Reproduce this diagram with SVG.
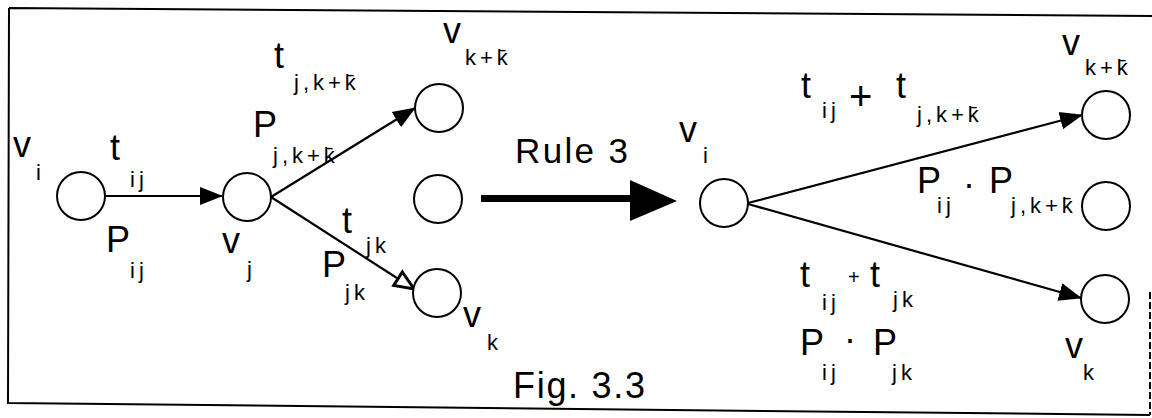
<svg xmlns="http://www.w3.org/2000/svg" width="1152" height="418" viewBox="0 0 1152 418">
<style>
text{font-family:"Liberation Sans",Arial,sans-serif;fill:#000}
.m{font-size:36px}
.s{font-size:22px;letter-spacing:4px}
.node{fill:#fff;stroke:#000;stroke-width:2}
.edge{stroke:#000;stroke-width:2.2;fill:none}
.frame{stroke:#000;stroke-width:2;fill:none}
</style>
<defs>
<marker id="ah" markerWidth="24" markerHeight="20" refX="22" refY="10" orient="auto" markerUnits="userSpaceOnUse">
<path d="M0,1 L23,10 L0,19 z" fill="#000"/>
</marker>
<marker id="aho" markerWidth="26" markerHeight="22" refX="22" refY="11" orient="auto" markerUnits="userSpaceOnUse">
<path d="M3,3 L22,11 L3,19 z" fill="#fff" stroke="#000" stroke-width="3"/>
</marker>
</defs>
<rect width="1152" height="418" fill="#fff"/>
<g id="frame">
<path class="frame" d="M9,8 L1152,16 M9,8 L8,404 M8,403 L1150,415"/>
<path class="frame" d="M1150,292 L1150,415" stroke-dasharray="7 3" stroke-width="1.5"/>
</g>
<g id="connectors">
<line class="edge" x1="104" y1="196" x2="222" y2="196" marker-end="url(#ah)"/>
<line class="edge" x1="271" y1="197" x2="415" y2="108" marker-end="url(#ah)"/>
<line class="edge" x1="271" y1="197" x2="414" y2="289" marker-end="url(#aho)"/>
<line class="edge" x1="748" y1="203" x2="1082" y2="115" marker-end="url(#ah)"/>
<line class="edge" x1="748" y1="204" x2="1081" y2="298" marker-end="url(#ah)"/>
<g id="rule3-arrow">
<rect x="481" y="195" width="152" height="7" fill="#000"/>
<path d="M630,180 L677,201 L630,221 z" fill="#000"/>
</g>
</g>
<g id="node-vi-left">
<circle class="node" cx="81" cy="196" r="24"/>
<text class="m" x="13" y="157">v</text><text class="s" x="36" y="180">i</text>
</g>
<g id="node-vj">
<circle class="node" cx="247" cy="197" r="24"/>
<text class="m" x="222" y="253">v</text><text class="s" x="247" y="277">j</text>
</g>
<g id="node-vkk-left">
<circle class="node" cx="439" cy="108" r="24"/>
<text class="m" x="443" y="43">v</text><text class="s" x="465" y="65">k+k̄</text>
</g>
<g id="node-mid-left">
<circle class="node" cx="438" cy="199" r="24"/>
</g>
<g id="node-vk-left">
<circle class="node" cx="437" cy="293" r="24"/>
<text class="m" x="463" y="327">v</text><text class="s" x="487" y="350">k</text>
</g>
<g id="labels-left">
<text class="m" x="110" y="160">t</text><text class="s" x="130" y="187">ij</text>
<text class="m" x="106" y="252">P</text><text class="s" x="130" y="278">ij</text>
<text class="m" x="274" y="68">t</text><text class="s" x="294" y="90">j,k+k̄</text>
<text class="m" x="253" y="137">P</text><text class="s" x="273" y="163">j,k+k̄</text>
<text class="m" x="342" y="233">t</text><text class="s" x="366" y="253">jk</text>
<text class="m" x="322" y="277">P</text><text class="s" x="345" y="300">jk</text>
</g>
<g id="rule3-label">
<text x="515" y="163" font-size="35" textLength="113" lengthAdjust="spacing">Rule 3</text>
</g>
<g id="node-vi-right">
<circle class="node" cx="724" cy="203" r="24"/>
<text class="m" x="679" y="142">v</text><text class="s" x="703" y="163">i</text>
</g>
<g id="node-vkk-right">
<circle class="node" cx="1106" cy="115" r="24"/>
<text class="m" x="1062" y="55">v</text><text class="s" x="1085" y="75">k+k̄</text>
</g>
<g id="node-mid-right">
<circle class="node" cx="1106" cy="206" r="24"/>
</g>
<g id="node-vk-right">
<circle class="node" cx="1105" cy="299" r="24"/>
<text class="m" x="1065" y="358">v</text><text class="s" x="1083" y="380">k</text>
</g>
<g id="labels-right">
<text class="m" x="801" y="98">t</text><text class="s" x="822" y="118">ij</text>
<text x="849" y="110" font-size="40">+</text>
<text class="m" x="896" y="98">t</text><text class="s" x="917" y="122">j,k+k̄</text>
<text class="m" x="917" y="193">P</text><text class="s" x="937" y="213">ij</text>
<text class="m" x="963" y="196">·</text>
<text class="m" x="989" y="193">P</text><text class="s" x="1011" y="213">j,k+k̄</text>
<text class="m" x="800" y="287">t</text><text class="s" x="822" y="310">ij</text>
<text x="848" y="284" font-size="20">+</text>
<text class="m" x="870" y="287">t</text><text class="s" x="893" y="307">jk</text>
<text class="m" x="800" y="355">P</text><text class="s" x="822" y="380">ij</text>
<text class="m" x="844" y="351">·</text>
<text class="m" x="873" y="355">P</text><text class="s" x="892" y="380">jk</text>
</g>
<g id="caption">
<text x="513" y="398" font-size="36" textLength="132" lengthAdjust="spacing">Fig. 3.3</text>
</g>
</svg>
